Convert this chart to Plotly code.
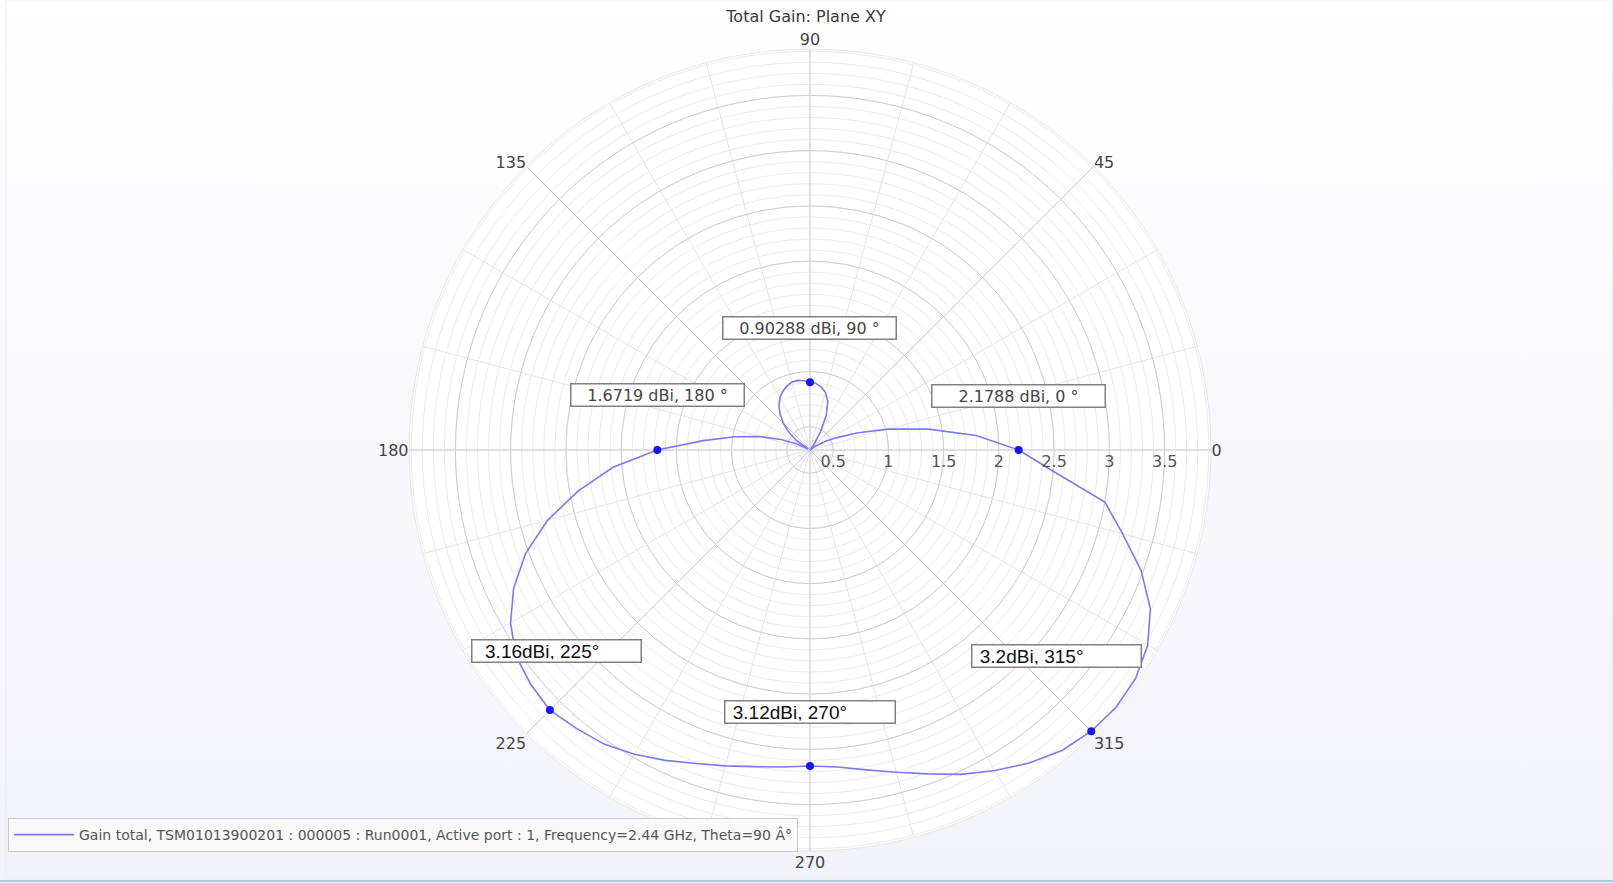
import math
import plotly.graph_objects as go

# ---------------- data ----------------
title_text = "Total Gain: Plane XY"
legend_name = ("Gain total, TSM01013900201 : 000005 : Run0001, Active port : 1, "
               "Frequency=2.44 GHz, Theta=90 Â°")

theta_deg = list(range(0, 360, 5))
gain_dbi = [
    2.1788, 1.80, 1.38, 1.02, 0.74, 0.55, 0.44, 0.35, 0.29, 0.29,   # 0..45
    0.29, 0.36, 0.48, 0.64, 0.76, 0.83, 0.87, 0.895, 0.90288, 0.92,  # 50..95
    0.93, 0.925, 0.905, 0.875, 0.835, 0.78, 0.71, 0.63, 0.54, 0.44,  # 100..145
    0.31, 0.42, 0.57, 0.76, 0.98, 1.26, 1.6719, 2.08, 2.42, 2.75,    # 150..195
    3.03, 3.25, 3.42, 3.54, 3.59, 3.62, 3.58, 3.54, 3.47, 3.39,      # 200..245
    3.31, 3.25, 3.20, 3.17, 3.15, 3.17, 3.23, 3.31, 3.41, 3.53,      # 250..295
    3.64, 3.75, 3.84, 3.89, 3.91, 3.89, 3.82, 3.69, 3.48, 3.22,      # 300..345
    3.00, 2.50,                                                      # 350..355
]

marker_theta = [0, 90, 180, 225, 270, 315]
marker_text = ["2.1788 dBi, 0 °", "0.90288 dBi, 90 °", "1.6719 dBi, 180 °",
               "3.16dBi, 225°", "3.12dBi, 270°", "3.2dBi, 315°"]

radial_ticks = [0.5, 1, 1.5, 2, 2.5, 3, 3.5]
angular_ticks = [0, 45, 90, 135, 180, 225, 270, 315]

# ---------------- geometry / styles ----------------
W, H = 1613, 883
CX, CY, RAD = 810, 450, 401
R_MIN, R_MAX = 0.29, 3.92

FONT = "DejaVu Sans"
TXT = "#444444"

# label box styles: offset of box centre from its dot (px), box text width, font, leader top offset
label_style = {
    0:   dict(ax=0,   ay=-54, w=168, fam=FONT, size=16, col=TXT, align="center", pad="", lead=(0, 12)),
    90:  dict(ax=-1,  ay=-54, w=168, fam=FONT, size=16, col=TXT, align="center", pad="", lead=(0, 12)),
    180: dict(ax=0,   ay=-55, w=168, fam=FONT, size=16, col=TXT, align="center", pad="", lead=(0, 12)),
    225: dict(ax=7,   ay=-59, w=164, fam="Liberation Sans", size=19, col="#111111", align="left",
              pad="\u00a0\u00a0", lead=(-4, 12)),
    270: dict(ax=0,   ay=-54, w=165, fam="Liberation Sans", size=19, col="#111111", align="left",
              pad="\u00a0", lead=(0, 12)),
    315: dict(ax=-35, ay=-75, w=164, fam="Liberation Sans", size=19, col="#111111", align="left",
              pad="\u00a0", lead=(9, 13)),
}


def to_px(r, th):
    d = (r - R_MIN) / (R_MAX - R_MIN) * RAD
    a = math.radians(th)
    return CX + d * math.cos(a), CY - d * math.sin(a)


dom_x = [(CX - RAD) / W, (CX + RAD) / W]
dom_y = [(H - CY - RAD) / H, (H - CY + RAD) / H]

gain_at = dict(zip(theta_deg, gain_dbi))
marker_r = [gain_at[t] for t in marker_theta]

fig = go.Figure()

# dummy trace so the background (minor grid) subplot is created
fig.add_trace(go.Scatterpolar(r=[R_MIN], theta=[0], mode="markers",
                              marker=dict(opacity=0), hoverinfo="skip",
                              showlegend=False, subplot="polar"))

fig.add_trace(go.Scatterpolar(
    r=gain_dbi + [gain_dbi[0]], theta=theta_deg + [360],
    mode="lines", line=dict(color="#7b7bef", width=1.6),
    name=legend_name, subplot="polar2", showlegend=True))

fig.add_trace(go.Scatterpolar(
    r=marker_r, theta=marker_theta, mode="markers",
    marker=dict(color="#1717e8", size=8), showlegend=False,
    subplot="polar2"))

annotations = []
shapes = []
for th, r, txt in zip(marker_theta, marker_r, marker_text):
    s = label_style[th]
    px, py = to_px(r, th)
    annotations.append(dict(
        x=px / W, y=1 - py / H, xref="paper", yref="paper",
        text=s["pad"] + txt, showarrow=True, ax=s["ax"], ay=s["ay"],
        arrowcolor="rgba(0,0,0,0)", arrowwidth=0.5,
        xanchor="center", yanchor="middle",
        width=s["w"], height=17, align=s["align"],
        bgcolor="white", bordercolor="#808080", borderwidth=1.5, borderpad=2,
        font=dict(family=s["fam"], size=s["size"], color=s["col"])))
    lx = px + s["ax"] + s["lead"][0]
    ly = py + s["ay"] + s["lead"][1]
    shapes.append(dict(type="line", xref="paper", yref="paper",
                       x0=lx / W, y0=1 - ly / H, x1=px / W, y1=1 - py / H,
                       line=dict(color="#a0a0a0", width=1, dash="dash"), layer="below"))

# page frame
shapes.append(dict(type="rect", xref="paper", yref="paper",
                   x0=6 / W, y0=3 / H, x1=1 - 1 / W, y1=1 - 1 / H,
                   line=dict(color="#ececf0", width=1), layer="below"))
shapes.append(dict(type="line", xref="paper", yref="paper",
                   x0=0, x1=1, y0=2 / H, y1=2 / H,
                   line=dict(color="#a9cbe8", width=2), layer="below"))

fig.update_layout(
    width=W, height=H,
    margin=dict(l=0, r=0, t=0, b=0),
    paper_bgcolor="rgba(0,0,0,0)",
    plot_bgcolor="rgba(0,0,0,0)",
    font=dict(family=FONT, color=TXT),
    title=dict(text=title_text, x=806 / W, xanchor="center", y=1 - 16 / H,
               yanchor="middle", font=dict(family=FONT, size=16, color="#3a3a3a")),
    showlegend=True,
    legend=dict(x=8 / W, y=1 - 818 / H, xanchor="left", yanchor="top",
                bgcolor="#f9f9f9", bordercolor="#c8c8c8", borderwidth=1,
                font=dict(family=FONT, size=14, color="#555555"),
                itemwidth=60),
    polar=dict(
        domain=dict(x=dom_x, y=dom_y),
        bgcolor="white",
        radialaxis=dict(range=[R_MIN, R_MAX], tick0=0, dtick=0.1,
                        showticklabels=False, ticks="", showline=False,
                        gridcolor="#ececec", gridwidth=1),
        angularaxis=dict(dtick=15, showticklabels=False, ticks="",
                         gridcolor="#e4e4e4", linecolor="#e8e8e8", showline=True),
    ),
    polar2=dict(
        domain=dict(x=dom_x, y=dom_y),
        bgcolor="rgba(0,0,0,0)",
        radialaxis=dict(range=[R_MIN, R_MAX], tickvals=radial_ticks,
                        ticktext=[f"{v:g}" for v in radial_ticks],
                        ticks="", showline=False, angle=0, side="clockwise",
                        gridcolor="#cfcfcf", gridwidth=1,
                        tickfont=dict(family=FONT, size=16, color="#555555")),
        angularaxis=dict(tickvals=angular_ticks,
                         ticktext=[str(v) for v in angular_ticks],
                         ticks="", showline=False, gridcolor="#cdcdcd",
                         tickfont=dict(family=FONT, size=16, color="#444444")),
    ),
    annotations=annotations,
    shapes=shapes,
)

post = ("document.body.style.margin='0';document.body.style.overflow='hidden';"
        "document.body.style.background='linear-gradient(to bottom,#ffffff 0%,#f2f2fa 100%)';")
fig.write_html("out.html", post_script=post, config={"displayModeBar": False})
